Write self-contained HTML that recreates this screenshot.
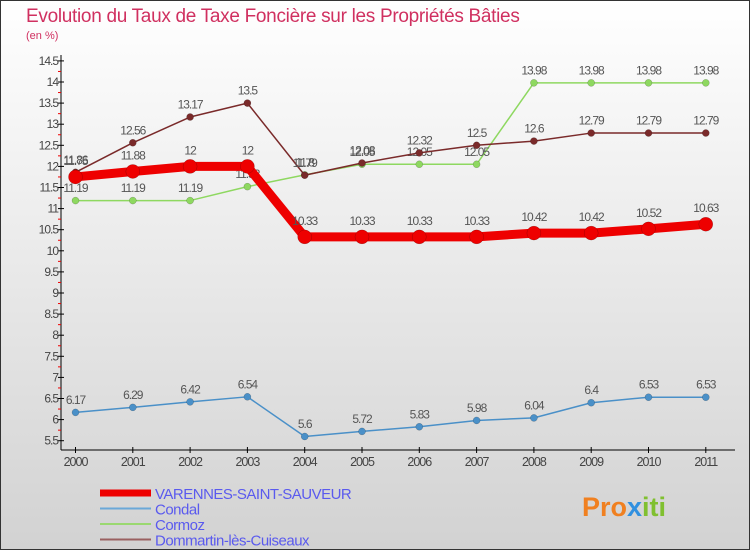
<!DOCTYPE html>
<html><head><meta charset="utf-8"><style>
body{margin:0;width:750px;height:550px;overflow:hidden;font-family:"Liberation Sans",sans-serif}
svg{display:block}
</style></head><body>
<svg id="chart" width="750" height="550" xmlns="http://www.w3.org/2000/svg">
<defs><linearGradient id="bg" x1="0" y1="0" x2="0" y2="1"><stop offset="0" stop-color="#ffffff"/><stop offset="1" stop-color="#d2d2d2"/></linearGradient></defs>
<rect x="0.5" y="0.5" width="749" height="549" fill="url(#bg)" stroke="#333"/>
<text x="26" y="22" font-size="19" fill="#d03060" letter-spacing="-0.3">Evolution du Taux de Taxe Foncière sur les Propriétés Bâties</text>
<text x="26" y="39" font-size="11" fill="#d03060">(en %)</text>
<g id="axes"></g><g id="series"></g><g id="legend"></g>
<text x="582" y="516" font-size="27" font-weight="bold" fill="#f08020">Pro<tspan fill="#3090e0">x</tspan><tspan fill="#80c030">iti</tspan></text>
</svg>
<script>
const years=["2000","2001","2002","2003","2004","2005","2006","2007","2008","2009","2010","2011"];
const yTicks=[5.5,6,6.5,7,7.5,8,8.5,9,9.5,10,10.5,11,11.5,12,12.5,13,13.5,14,14.5];
const varennes=[11.75,11.88,12,12,10.33,10.33,10.33,10.33,10.42,10.42,10.52,10.63];
const condal=[6.17,6.29,6.42,6.54,5.6,5.72,5.83,5.98,6.04,6.4,6.53,6.53];
const cormoz=[11.19,11.19,11.19,11.52,11.8,12.05,12.05,12.05,13.98,13.98,13.98,13.98];
const dommartin=[11.86,12.56,13.17,13.5,11.79,12.08,12.32,12.5,12.6,12.79,12.79,12.79];
const NS="http://www.w3.org/2000/svg";
const x=i=>75.5+i*57.3;
const y=v=>440.7-(v-5.5)*42.2;
function mk(p,t,a){const e=document.createElementNS(NS,t);for(const k in a)e.setAttribute(k,a[k]);p.appendChild(e);return e;}
const ax=document.getElementById('axes');
let l=mk(ax,'line',{x1:61,y1:55,x2:61,y2:450,stroke:'#000'});


l=mk(ax,'line',{x1:61,y1:450,x2:735,y2:450,stroke:'#000'});


yTicks.forEach((v,i)=>{
  mk(ax,'line',{x1:58,y1:y(v),x2:64,y2:y(v),stroke:'#000'});
  if(i<yTicks.length-1)mk(ax,'line',{x1:58,y1:y(v+0.25),x2:61,y2:y(v+0.25),stroke:'#e00'});
  const t=mk(ax,'text',{x:58,y:y(v)+4,'font-size':12,'text-anchor':'end',fill:'#444','letter-spacing':'-1'});
  t.textContent=String(v);
  
  
});
years.forEach((yr,i)=>{
  mk(ax,'line',{x1:x(i),y1:447,x2:x(i),y2:453,stroke:'#000'});
  const t=mk(ax,'text',{x:x(i),y:466,'font-size':12.5,'text-anchor':'middle',fill:'#444','letter-spacing':'-1'});
  t.textContent=yr;
  
  
});
const sg=document.getElementById('series');
const defs=[
 {d:cormoz,c:'#8ed860',w:1.5,r:3.5,n:'cormoz'},
 {d:dommartin,c:'#7a2a2a',w:1.5,r:3.5,n:'dommartin'},
 {d:condal,c:'#4a90c8',w:1.5,r:3.5,n:'condal'},
 {d:varennes,c:'#ee0000',w:9,r:7,n:'varennes'}];
defs.forEach(s=>{
  const g=mk(sg,'g',{});
  
  
  const pl=mk(g,'polyline',{points:s.d.map((v,i)=>x(i)+','+y(v)).join(' '),fill:'none',stroke:s.c,'stroke-width':s.w,'stroke-linejoin':'round'});
  
  
  s.d.forEach((v,i)=>{
    const c=mk(g,'circle',{cx:x(i),cy:y(v),r:s.r,fill:s.c,stroke:'rgba(0,0,0,0.3)','stroke-width':0.5});
    
    
    const t=mk(g,'text',{x:x(i),y:y(v)-(s.r+5),'font-size':12,'text-anchor':'middle',fill:'#555','letter-spacing':'-1'});
    t.textContent=String(v);
    
    
  });
});
const lg=document.getElementById('legend');
[['VARENNES-SAINT-SAUVEUR','#ee0000',7],['Condal','#6aa8d8',2],['Cormoz','#9ad870',2],['Dommartin-lès-Cuiseaux','#9a6060',2]].forEach((e,i)=>{
  const yy=493+i*15.5;
  const r=mk(lg,'line',{x1:100,y1:yy,x2:151,y2:yy,stroke:e[1],'stroke-width':e[2]});
  
  
  const t=mk(lg,'text',{x:155,y:yy+6,'font-size':15,fill:'#5a5aee','letter-spacing':'-0.5'});
  t.textContent=e[0];
  
  
});
</script>
</body></html>
